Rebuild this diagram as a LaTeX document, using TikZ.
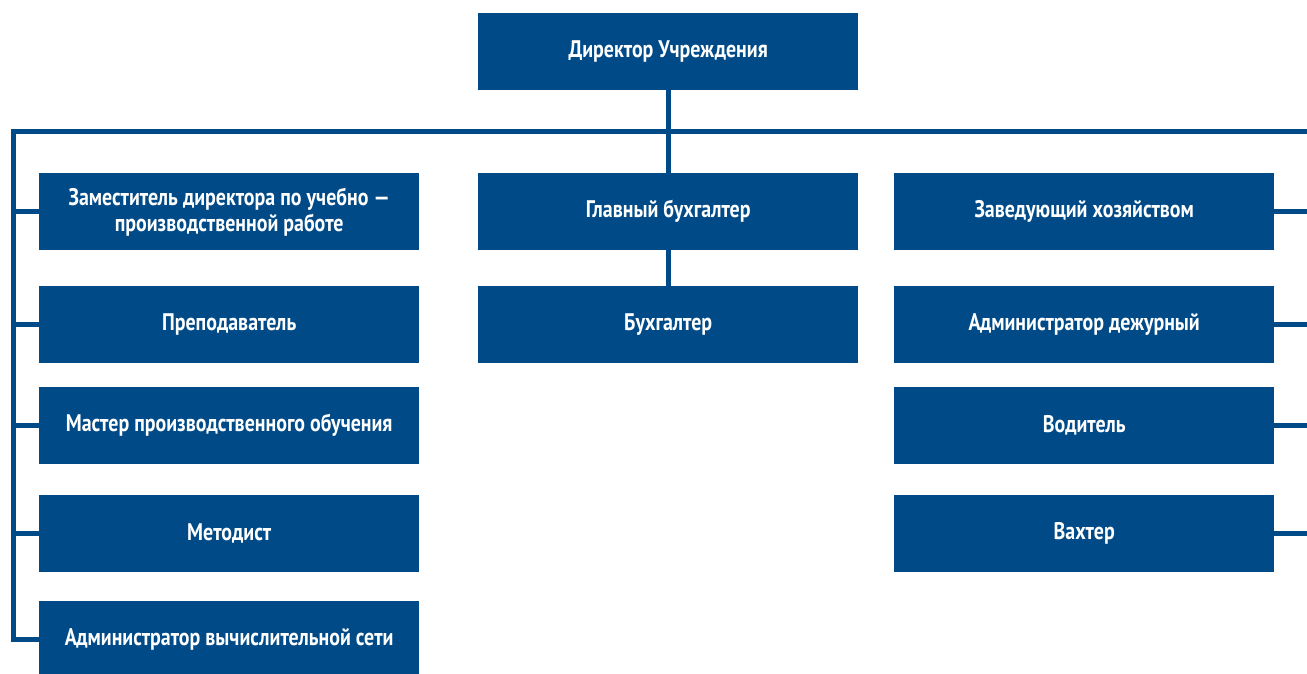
\documentclass[tikz,border=0pt]{standalone}
\usepackage{fontspec}
\setmainfont[FakeStretch=0.83]{PT Sans}
\usepackage{xcolor}
\usepackage{tikz}

\definecolor{orgblue}{RGB}{0,74,135}

\tikzset{
    unitbox/.style={fill=orgblue, text=white, font=\bfseries\fontsize{24}{26}\selectfont,
        minimum width=380pt, minimum height=77pt, inner sep=0pt, align=center, anchor=north west},
    link/.style={draw=orgblue, line width=5pt}
}

\begin{document}
\begin{tikzpicture}[x=1pt,y=-1pt]
        \clip (0,0) rectangle (1307,673);

        % Top box
        \node[unitbox] (dir) at (478,13) {Директор Учреждения};

        % Left column
        \foreach \n/\y/\txt in {1/173/{Заместитель директора по учебно~—\\производственной работе},
                2/286/{Преподаватель},
                3/387/{Мастер производственного обучения},
                4/495/{Методист},
                5/601/{Администратор вычислительной сети}} {
            \node[unitbox] (l\n) at (39,\y) {\txt};
        }

        % Middle column
        \node[unitbox] (m1) at (478,173) {Главный бухгалтер};
        \node[unitbox] (m2) at (478,286) {Бухгалтер};

        % Right column
        \foreach \n/\y/\txt in {1/173/{Заведующий хозяйством},
                2/286/{Администратор дежурный},
                3/387/{Водитель},
                4/495/{Вахтер}} {
            \node[unitbox] (r\n) at (894,\y) {\txt};
        }

        % Connectors
        \coordinate (lt) at (13,131);
        \coordinate (rt) at (1312,131);
        \draw[link] (l5.west) -| (lt) -- (rt);
        \foreach \n in {1,...,4} {
            \draw[link] (l\n.west) -- (l\n.west -| lt);
            \draw[link] (r\n.east) -- (r\n.east -| rt);
        }
        \draw[link] (dir.south) -- (m1.north);
        \draw[link] (m1.south) -- (m2.north);
    \end{tikzpicture}
\end{document}
